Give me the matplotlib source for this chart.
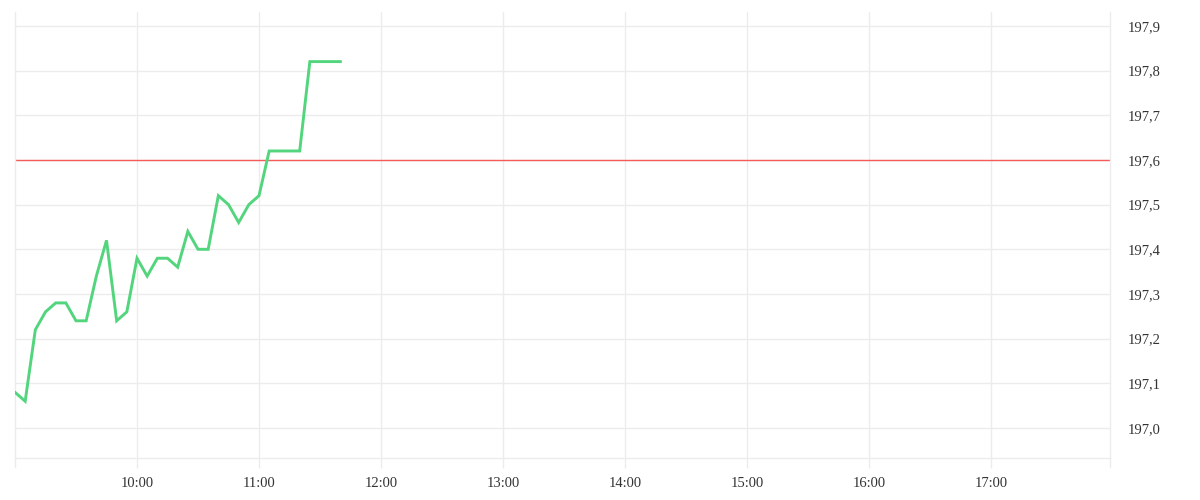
import numpy as np
import pandas as pd
import matplotlib
matplotlib.use('Agg')
import matplotlib.pyplot as plt
import matplotlib.dates as mdates
from matplotlib.ticker import FuncFormatter

# price every 5 minutes from the open
times = ['09:00', '09:05', '09:10', '09:15', '09:20', '09:25', '09:30', '09:35',
         '09:40', '09:45', '09:50', '09:55', '10:00', '10:05', '10:10', '10:15',
         '10:20', '10:25', '10:30', '10:35', '10:40', '10:45', '10:50', '10:55',
         '11:00', '11:05', '11:10', '11:15', '11:20', '11:25', '11:30', '11:35',
         '11:40']
prices = [197.08, 197.06, 197.22, 197.26, 197.28, 197.28, 197.24, 197.24,
          197.34, 197.42, 197.24, 197.26, 197.38, 197.34, 197.38, 197.38,
          197.36, 197.44, 197.40, 197.40, 197.52, 197.50, 197.46, 197.50,
          197.52, 197.62, 197.62, 197.62, 197.62, 197.82, 197.82, 197.82,
          197.82]
prev_close = 197.60
y_ticks = [197.0, 197.1, 197.2, 197.3, 197.4, 197.5, 197.6, 197.7, 197.8, 197.9]
x_ticks = ['10:00', '11:00', '12:00', '13:00', '14:00', '15:00', '16:00', '17:00']

day = '2020-01-01 '
t = pd.to_datetime([day + s for s in times])
xt = pd.to_datetime([day + s for s in x_ticks])

grid_col = '#ececec'
text_col = '#333333'
plt.rcParams['font.family'] = ['Liberation Serif', 'DejaVu Serif']

fig = plt.figure(figsize=(12, 5), dpi=100)
ax = fig.add_axes([15/1200, 42/500, 1095/1200, 446/500])

ax.plot(t, prices, color='#52d57d', linewidth=2.1, solid_joinstyle='miter', zorder=3)
ax.axhline(prev_close, color='#f45b5b', linewidth=1, zorder=2)

ax.set_xlim(pd.Timestamp(day + '09:00'), pd.Timestamp(day + '17:58:30'))
ax.set_ylim(196.933, 197.931)

ax.set_xticks(xt)
ax.xaxis.set_major_formatter(mdates.DateFormatter('%H:%M'))
ax.set_yticks(y_ticks)
ax.yaxis.set_major_formatter(FuncFormatter(lambda v, p: ('%.1f' % v).replace('.', ',')))
ax.yaxis.tick_right()

ax.grid(True, color=grid_col, linewidth=1, zorder=0)
ax.tick_params(axis='x', length=7, color=grid_col, width=1, pad=7,
               labelsize=10.5, labelcolor=text_col)
ax.tick_params(axis='y', length=0, pad=13, labelsize=10.5, labelcolor=text_col)

for side in ['left', 'right', 'bottom']:
    ax.spines[side].set_color(grid_col)
    ax.spines[side].set_linewidth(1)
ax.spines['top'].set_visible(False)

# short tick under the left and right edges
ax.plot([0, 0], [0, -9/446], transform=ax.transAxes, color=grid_col,
        linewidth=1, clip_on=False)
ax.plot([1, 1], [0, -9/446], transform=ax.transAxes, color=grid_col,
        linewidth=1, clip_on=False)

fig.savefig('out.png', dpi=100, facecolor='white')
